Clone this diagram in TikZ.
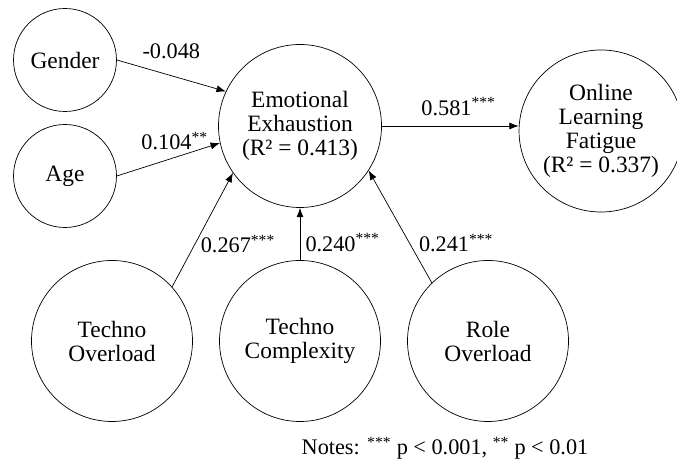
\documentclass[tikz,border=0pt]{standalone}
\usepackage{fontspec}
\setmainfont{Liberation Serif}
\usetikzlibrary{arrows.meta, shapes.geometric}

\begin{document}
\begin{tikzpicture}[
  var/.style={draw, circle, line width=0.6pt, inner sep=0pt, align=center, font=\fontsize{20}{20.5}\selectfont},
  link/.style={-{Latex[length=8pt, width=6pt]}, line width=0.6pt},
  coef/.style={inner sep=1pt, font=\fontsize{19}{20.5}\selectfont}
]
  \useasboundingbox (0,0) rectangle (20.31,13.8);

  % controls
  \node[var, minimum size=3.09cm] (gen) at (1.95, 12.0) {Gender};
  \node[var, minimum size=3.09cm] (age) at (1.95, 8.52) {Age};

  % mediator and outcome
  \node[var, minimum size=4.89cm] (ee) at (9.0, 10.02) {Emotional\\Exhaustion\\(R² = 0.413)};
  \node[var, ellipse, minimum width=4.56cm, minimum height=4.86cm] (olf) at (18.03, 9.87) {Online\\Learning\\Fatigue\\(R² = 0.337)};

  % stressors
  \node[var, minimum size=4.83cm] (to) at (3.36, 3.57) {Techno\\Overload};
  \node[var, minimum size=4.83cm] (tc) at (9.0, 3.57) {Techno\\Complexity};
  \node[var, minimum size=4.83cm] (ro) at (14.64, 3.57) {Role\\Overload};

  % paths
  \draw[link] (gen.east) -- (ee.155) node[coef, pos=0.5, above=0.45cm] {-0.048};
  \draw[link] (age.east) -- (ee.192) node[coef, pos=0.56, above=0.18cm] {0.104\textsuperscript{**}};
  \draw[link] (ee.east) -- (ee.east -| olf.west) node[coef, pos=0.56, above=0.27cm] {0.581\textsuperscript{***}};
  \draw[link] (to.42) -- (ee.215) node[coef, pos=0.3, anchor=base west, xshift=0.27cm] {0.267\textsuperscript{***}};
  \draw[link] (tc.north) -- (ee.south) node[coef, pos=0.17, anchor=base west, xshift=0.12cm] {0.240\textsuperscript{***}};
  \draw[link] (ro.134) -- (ee.327) node[coef, pos=0.28, anchor=base west, xshift=0.1cm] {0.241\textsuperscript{***}};

  \node[coef, anchor=base] (notes) at (13.35, 0.15) {Notes: \textsuperscript{***} p < 0.001, \textsuperscript{**} p < 0.01};
\end{tikzpicture}
\end{document}
